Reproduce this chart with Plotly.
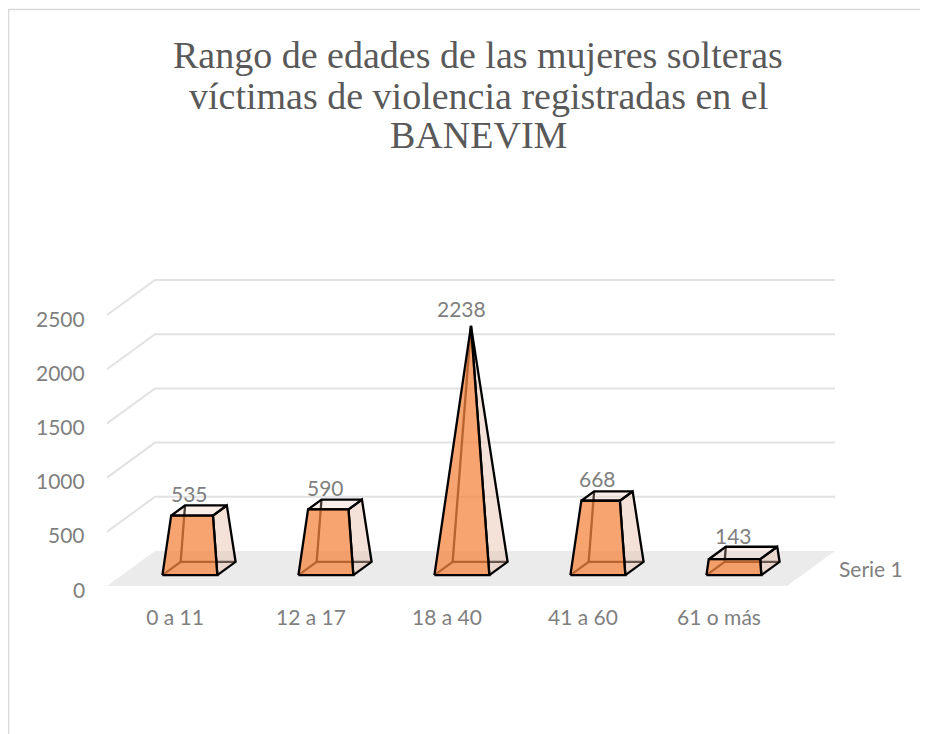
import plotly.graph_objects as go

# ---------------- data ----------------
categories = ["0 a 11", "12 a 17", "18 a 40", "41 a 60", "61 o más"]
values = [535, 590, 2238, 668, 143]
y_ticks = [0, 500, 1000, 1500, 2000, 2500]
series_name = "Serie 1"
title_lines = ["Rango de edades de las mujeres solteras",
               "víctimas de violencia registradas en el",
               "BANEVIM"]

# ---------------- pseudo-3D geometry ----------------
OFF = 8                   # page body margin
W, H = 920, 726
ML, MR, MT, MB = 90 - OFF, 5, 190 - OFF, 131
PX_PER_CAT = 136.0
PX_PER_VAL = 0.1084
X0_PX, Y0_PX = 175.0 - OFF, 586.0 - OFF

DX = 48.0 / PX_PER_CAT
DY = 35.0 / PX_PER_VAL
HALF_W = 0.202
D_CENTER, HALF_D = 0.5, 0.19
VMAX = max(values)

plot_w = W - ML - MR
plot_h = H - MT - MB
x_range = [(ML - X0_PX) / PX_PER_CAT, (W - MR - X0_PX) / PX_PER_CAT]
y_range = [(Y0_PX - (H - MB)) / PX_PER_VAL, (Y0_PX - MT) / PX_PER_VAL]


def proj(c, v, d):
    return c + d * DX, v + d * DY


fig = go.Figure()

n = len(categories)
floor = [proj(-0.5, 0, 0), proj(n - 0.5, 0, 0), proj(n - 0.5, 0, 1), proj(-0.5, 0, 1)]
fig.add_trace(go.Scatter(x=[p[0] for p in floor], y=[p[1] for p in floor], fill="toself",
                         fillcolor="#EBEBEB", mode="lines", line=dict(width=0),
                         hoverinfo="skip", showlegend=False))

gx, gy = [], []
for t in y_ticks[1:]:
    for p in (proj(-0.5, t, 0), proj(-0.5, t, 1), proj(n - 0.5, t, 1)):
        gx.append(p[0]); gy.append(p[1])
    gx.append(None); gy.append(None)
fig.add_trace(go.Scatter(x=gx, y=gy, mode="lines", line=dict(color="#E2E2E2", width=2),
                         hoverinfo="skip", showlegend=False))

LINE = dict(color="black", width=2.3)


def corner(i, sx, sd, z):
    s = 1 - z / VMAX
    return proj(i + sx * HALF_W * s, z, D_CENTER + sd * HALF_D * s)


def poly(pts, fillcolor=None, line=LINE, close=True):
    xs = [p[0] for p in pts]; ys = [p[1] for p in pts]
    if close:
        xs.append(xs[0]); ys.append(ys[0])
    kw = dict(fill="toself", fillcolor=fillcolor) if fillcolor else {}
    return go.Scatter(x=xs, y=ys, mode="lines", line=line, hoverinfo="skip",
                      showlegend=False, **kw)


for i, v in enumerate(values):
    FLB, FRB = corner(i, -1, -1, 0), corner(i, 1, -1, 0)
    BLB, BRB = corner(i, -1, 1, 0), corner(i, 1, 1, 0)
    FLT, FRT = corner(i, -1, -1, v), corner(i, 1, -1, v)
    BLT, BRT = corner(i, -1, 1, v), corner(i, 1, 1, v)
    fig.add_trace(poly([FLB, BLB, BRB], close=False))
    fig.add_trace(poly([BLB, BLT], close=False))
    fig.add_trace(poly([FRB, BRB, BRT, FRT], "rgba(230,190,170,0.45)"))
    fig.add_trace(poly([FLT, FRT, BRT, BLT], "rgba(235,200,185,0.3)"))
    fig.add_trace(poly([FLB, FRB, FRT, FLT], "rgba(245,133,66,0.75)"))

LABEL_FONT = dict(family="Lato", size=21, color="#7F7F7F")

# value labels
for i, v in enumerate(values):
    _, ly = proj(i, v, 1)
    lx = i + (D_CENTER - HALF_D) * DX
    fig.add_annotation(x=lx, y=ly, text=str(v), showarrow=False, font=LABEL_FONT,
                       xanchor="center", yanchor="middle")

# value-axis tick labels (front-left edge of the side wall)
for t in y_ticks:
    tx, ty = proj(-0.5, t, 0)
    fig.add_annotation(x=tx, y=ty, text=str(t), showarrow=False, font=LABEL_FONT,
                       xanchor="right", yanchor="middle", xshift=-20, yshift=-3)

# series (depth axis) label
sx_, sy_ = proj(n - 0.5, 0, 0.5)
fig.add_annotation(x=sx_, y=sy_, text=series_name, showarrow=False, xanchor="left",
                   yanchor="middle", xshift=26, font=LABEL_FONT)


def pxp(px):
    return (px - ML) / plot_w


def pyp(py):
    return (H - MB - py) / plot_h


# title lines
for k, (line, ypx) in enumerate(zip(title_lines, [55, 96, 135])):
    fig.add_annotation(xref="paper", yref="paper", x=pxp(478 - OFF), y=pyp(ypx - OFF),
                       text=line, showarrow=False, xanchor="center", yanchor="middle",
                       font=dict(family="Liberation Serif", size=38, color="#595959"))

fig.add_shape(type="rect", xref="paper", yref="paper", x0=pxp(0.5), y0=pyp(1.5),
              x1=pxp(W + 20), y1=pyp(H + 20), line=dict(color="#D9D9D9", width=1.5),
              layer="below")

fig.update_layout(
    width=W, height=H,
    margin=dict(l=ML, r=MR, t=MT, b=MB),
    paper_bgcolor="white", plot_bgcolor="white",
    xaxis=dict(range=x_range, tickmode="array", tickvals=list(range(n)), ticktext=categories,
               showgrid=False, zeroline=False, showline=False, ticks="",
               tickfont=LABEL_FONT, fixedrange=True),
    yaxis=dict(range=y_range, showgrid=False, zeroline=False, showline=False,
               showticklabels=False, ticks="", fixedrange=True),
    showlegend=False,
)

fig.write_html("out.html")
